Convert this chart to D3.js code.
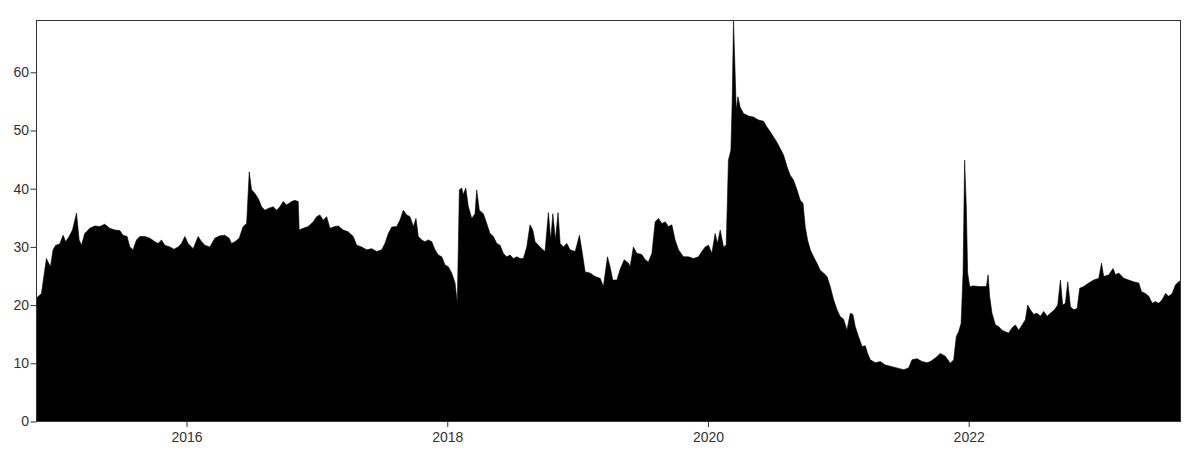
<!DOCTYPE html>
<html>
<head>
<meta charset="utf-8">
<script src="https://cdn.jsdelivr.net/npm/d3@7"></script>
<style>
  html, body { margin: 0; padding: 0; background: #fff; }
  svg { display: block; }
</style>
</head>
<body>
<svg id="chart" width="1188" height="450"></svg>
<script>
// decimal years
const dates = [
2014.849,2014.887,2014.912,2014.925,2014.938,2014.956,2014.976,2014.997,2015.027,2015.053,
2015.073,2015.099,2015.125,2015.156,2015.176,2015.194,2015.219,2015.258,2015.296,2015.334,
2015.373,2015.411,2015.450,2015.488,2015.513,2015.544,2015.565,2015.590,2015.616,2015.642,
2015.680,2015.718,2015.757,2015.782,2015.808,2015.833,2015.872,2015.903,2015.936,2015.962,
2015.987,2016.012,2016.051,2016.089,2016.115,2016.140,2016.179,2016.217,2016.256,2016.294,
2016.327,2016.345,2016.371,2016.404,2016.434,2016.461,2016.481,2016.499,2016.524,2016.550,
2016.576,2016.601,2016.626,2016.665,2016.691,2016.716,2016.742,2016.768,2016.806,2016.831,
2016.857,2016.864,2016.895,2016.933,2016.972,2016.998,2017.023,2017.049,2017.075,2017.100,
2017.138,2017.164,2017.202,2017.240,2017.279,2017.305,2017.343,2017.382,2017.420,2017.459,
2017.497,2017.522,2017.548,2017.574,2017.612,2017.637,2017.663,2017.689,2017.714,2017.740,
2017.760,2017.778,2017.804,2017.829,2017.855,2017.881,2017.906,2017.931,2017.958,2017.983,
2018.008,2018.034,2018.060,2018.077,2018.093,2018.111,2018.123,2018.142,2018.162,2018.188,
2018.213,2018.226,2018.246,2018.277,2018.303,2018.328,2018.354,2018.380,2018.405,2018.430,
2018.456,2018.482,2018.507,2018.533,2018.559,2018.584,2018.610,2018.635,2018.656,2018.674,
2018.699,2018.725,2018.750,2018.776,2018.794,2018.810,2018.830,2018.850,2018.866,2018.891,
2018.917,2018.942,2018.981,2019.014,2019.032,2019.058,2019.096,2019.134,2019.173,2019.198,
2019.229,2019.249,2019.270,2019.301,2019.326,2019.357,2019.390,2019.403,2019.428,2019.454,
2019.493,2019.518,2019.543,2019.570,2019.595,2019.620,2019.646,2019.672,2019.697,2019.723,
2019.748,2019.774,2019.812,2019.850,2019.889,2019.927,2019.953,2019.979,2020.004,2020.030,
2020.055,2020.073,2020.094,2020.119,2020.140,2020.157,2020.176,2020.186,2020.196,2020.207,
2020.217,2020.230,2020.247,2020.273,2020.311,2020.349,2020.388,2020.426,2020.452,2020.478,
2020.503,2020.529,2020.554,2020.580,2020.606,2020.631,2020.656,2020.683,2020.708,2020.729,
2020.746,2020.764,2020.785,2020.810,2020.836,2020.861,2020.887,2020.913,2020.938,2020.964,
2020.990,2021.015,2021.040,2021.066,2021.092,2021.112,2021.130,2021.155,2021.182,2021.207,
2021.225,2021.245,2021.284,2021.322,2021.360,2021.399,2021.450,2021.501,2021.539,2021.565,
2021.604,2021.642,2021.681,2021.706,2021.744,2021.783,2021.821,2021.859,2021.885,2021.905,
2021.923,2021.942,2021.957,2021.969,2021.982,2021.992,2022.008,2022.038,2022.077,2022.115,
2022.136,2022.149,2022.161,2022.179,2022.205,2022.230,2022.256,2022.282,2022.307,2022.333,
2022.358,2022.384,2022.410,2022.435,2022.453,2022.473,2022.499,2022.525,2022.550,2022.576,
2022.602,2022.627,2022.658,2022.683,2022.704,2022.721,2022.742,2022.760,2022.781,2022.806,
2022.832,2022.852,2022.883,2022.921,2022.959,2022.998,2023.019,2023.036,2023.075,2023.108,
2023.126,2023.151,2023.190,2023.228,2023.266,2023.305,2023.326,2023.356,2023.382,2023.408,
2023.433,2023.458,2023.484,2023.510,2023.535,2023.561,2023.587,2023.612,2023.625
];

const values = [
21.2,22.0,26.0,28.0,27.4,26.6,29.5,30.3,30.5,32.0,
30.9,31.8,32.9,35.8,31.2,30.3,32.3,33.2,33.6,33.5,
33.9,33.2,32.9,32.8,32.0,31.8,30.0,29.5,31.2,31.8,
31.8,31.5,30.9,30.6,31.2,30.3,30.0,29.6,30.0,30.6,
31.8,30.6,29.7,31.8,30.9,30.3,30.0,31.5,31.9,32.0,
31.5,30.6,30.9,31.5,33.5,34.0,42.9,39.8,39.2,38.3,
36.9,36.3,36.6,36.9,36.3,36.9,37.8,37.2,37.8,38.0,
37.8,32.9,33.2,33.5,34.3,35.2,35.5,34.6,35.2,33.2,
33.5,33.6,32.9,32.6,31.8,30.3,30.0,29.5,29.7,29.2,
29.5,30.6,32.3,33.4,33.5,34.6,36.3,35.5,35.2,33.5,
34.9,31.8,31.2,30.9,31.2,30.9,29.5,28.6,28.3,26.9,
26.6,25.5,23.8,20.3,39.8,40.1,39.0,40.1,36.9,34.9,
35.7,39.8,36.3,35.7,34.0,32.3,31.8,30.6,30.3,28.9,
28.3,28.6,28.0,28.3,28.0,28.0,30.0,33.8,32.9,30.9,
30.3,29.7,29.2,35.9,31.2,35.7,31.2,35.9,30.6,30.0,
30.6,29.5,29.2,32.0,29.5,25.7,25.5,24.9,24.6,23.2,
28.3,26.6,24.3,24.3,26.1,27.8,27.2,26.6,30.0,28.9,
28.7,27.8,27.4,28.9,34.3,34.9,34.0,34.3,33.5,33.8,
31.2,29.5,28.3,28.3,28.0,28.3,29.2,30.0,30.3,28.9,
32.3,30.6,32.9,30.0,30.3,44.9,46.6,55.2,68.9,60.9,
53.5,55.8,54.0,52.9,52.5,52.3,51.8,51.6,50.6,49.8,
48.9,48.0,46.9,45.8,43.8,42.3,41.5,39.8,38.0,37.5,
33.5,31.2,29.5,28.3,27.2,26.0,25.5,24.9,23.2,20.9,
19.2,18.0,17.6,15.7,18.6,18.4,16.3,14.6,12.9,13.0,
11.7,10.6,10.1,10.3,9.7,9.5,9.2,8.9,9.2,10.6,
10.8,10.3,10.1,10.3,10.9,11.7,11.2,10.0,10.6,14.6,
15.4,16.9,25.5,44.9,36.9,25.5,23.2,23.3,23.2,23.2,
23.2,25.2,21.5,18.6,16.6,16.3,15.7,15.4,15.2,16.1,
16.6,15.7,16.6,17.5,20.0,19.2,18.4,18.6,18.1,18.9,
18.1,18.6,19.2,20.0,24.3,20.0,20.3,24.0,19.7,19.2,
19.4,22.9,23.2,23.8,24.3,24.6,27.2,24.9,25.2,26.3,
25.2,25.5,24.6,24.3,24.0,23.8,22.3,22.0,21.5,20.3,
20.6,20.3,20.9,22.0,21.5,22.0,23.5,24.0,24.2
];

const xTicks = [2016, 2018, 2020, 2022];
const yTicks = [0, 10, 20, 30, 40, 50, 60];

const data = dates.map((d, i) => ({ t: d, v: values[i] }));

const svg = d3.select("#chart");
const pLeft = 36.5, pRight = 1180.5, pTop = 20.5, pBottom = 421.5;

const x = d3.scaleLinear().domain(d3.extent(dates)).range([pLeft, pRight]);
const y = d3.scaleLinear().domain([0, d3.max(values)]).range([pBottom, pTop]);

svg.append("defs").append("clipPath").attr("id", "plotclip")
  .append("rect").attr("x", pLeft).attr("y", pTop)
  .attr("width", pRight - pLeft).attr("height", pBottom - pTop);

const area = d3.area()
  .x(d => x(d.t))
  .y0(y(0))
  .y1(d => y(d.v));

svg.append("path")
  .datum(data)
  .attr("clip-path", "url(#plotclip)")
  .attr("fill", "#000")
  .attr("stroke", "#000")
  .attr("stroke-width", 0.6)
  .attr("d", area);

const fontFamily = "'Liberation Sans', Arial, Helvetica, sans-serif";

const xAxis = svg.append("g")
  .attr("transform", `translate(0,${pBottom})`)
  .call(d3.axisBottom(x).tickValues(xTicks).tickFormat(d3.format("d")).tickSize(5.5).tickPadding(5));
const yAxis = svg.append("g")
  .attr("transform", `translate(${pLeft},0)`)
  .call(d3.axisLeft(y).tickValues(yTicks).tickFormat(d3.format("d")).tickSize(6).tickPadding(1.5));

[xAxis, yAxis].forEach(g => {
  g.select(".domain").remove();
  g.selectAll(".tick line").attr("stroke", "#333");
  g.selectAll(".tick text")
    .attr("fill", "#333")
    .style("font-family", fontFamily)
    .style("font-size", "14px");
});

svg.append("rect")
  .attr("x", pLeft).attr("y", pTop)
  .attr("width", pRight - pLeft).attr("height", pBottom - pTop)
  .attr("fill", "none")
  .attr("stroke", "#333")
  .attr("stroke-width", 1);
</script>
</body>
</html>
